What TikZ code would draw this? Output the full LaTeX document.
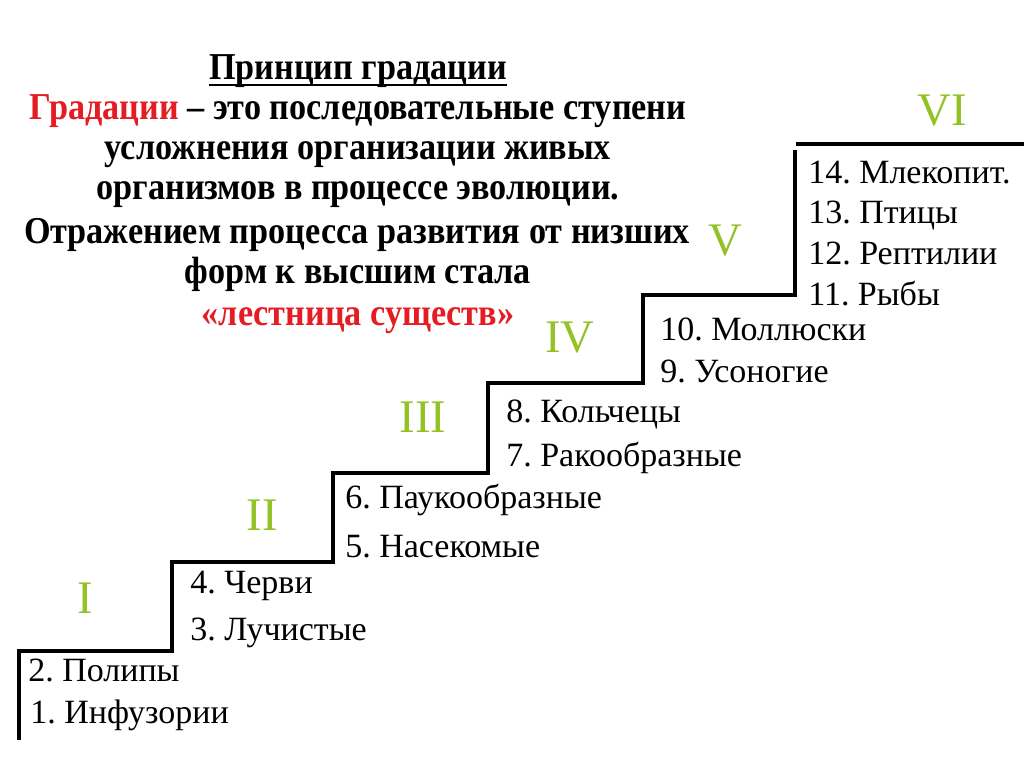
\documentclass[tikz,border=0pt]{standalone}
\usepackage{fontspec}
\setmainfont{Liberation Serif}
\newfontfamily\condfont[FakeStretch=0.9]{Liberation Serif}
\frenchspacing
\definecolor{numgreen}{RGB}{146,194,36}
\definecolor{myred}{RGB}{228,28,36}
\tikzset{
  stair/.style={line width=3pt, line join=miter},
  item/.style={anchor=mid west, inner sep=0pt, yshift=-6pt, font=\fontsize{25.5}{30}\selectfont},
  roman/.style={anchor=mid, inner sep=0pt, yshift=-9pt, text=numgreen, font=\fontsize{35}{40}\selectfont},
  title/.style={anchor=mid, inner sep=0pt, yshift=-6pt, font=\condfont\bfseries\fontsize{28.5}{32}\selectfont}
}
\begin{document}
\begin{tikzpicture}[x=0.75pt,y=-0.75pt]
\useasboundingbox (0,0) rectangle (1024,767);
% staircase
\coordinate (s0) at (19,740);
\coordinate (s1) at (19,651);
\coordinate (s2) at (172,651);
\coordinate (s3) at (172,562);
\coordinate (s4) at (333,562);
\coordinate (s5) at (333,473);
\coordinate (s6) at (488,473);
\coordinate (s7) at (488,383);
\coordinate (s8) at (643,383);
\coordinate (s9) at (643,295);
\coordinate (s10) at (795,295);
\coordinate (s11) at (795,150);
\coordinate (t0) at (796,144);
\coordinate (t1) at (1024,144);
\draw[stair] (s0) -- (s1) -- (s2) -- (s3) -- (s4) -- (s5) -- (s6) -- (s7) -- (s8) -- (s9) -- (s10) -- (s11);
\draw[stair] (t0) -- (t1);
% title block
\node[title] (h1) at (358,68) {Принцип градации};
\draw[line width=2pt] ([yshift=-4.5pt]h1.base west) -- ([yshift=-4.5pt]h1.base east);
\node[title] (h2) at (358,108) {\textcolor{myred}{Градации} – это последовательные ступени};
\node[title] (h3) at (358,148) {усложнения организации живых};
\node[title] (h4) at (358,188) {организмов в процессе эволюции.};
\node[title] (h5) at (357,232) {Отражением процесса развития от низших};
\node[title] (h6) at (358,272) {форм к высшим стала};
\node[title, text=myred] (h7) at (358,314) {«лестница существ»};
% items
\node[item] (i2) at (28,670) {2. Полипы};
\node[item] (i1) at (30,712) {1. Инфузории};
\node[item] (i4) at (190,582) {4. Черви};
\node[item] (i3) at (190,629) {3. Лучистые};
\node[item] (i6) at (345,497) {6. Паукообразные};
\node[item] (i5) at (345,546) {5. Насекомые};
\node[item] (i8) at (506,411) {8. Кольчецы};
\node[item] (i7) at (506,455) {7. Ракообразные};
\node[item] (i10) at (660,329) {10. Моллюски};
\node[item] (i9) at (660,371) {9. Усоногие};
\node[item] (i14) at (808,172) {14. Млекопит.};
\node[item] (i13) at (808,212) {13. Птицы};
\node[item] (i12) at (808,253) {12. Рептилии};
\node[item] (i11) at (808,294) {11. Рыбы};
% roman numerals
\node[roman] (r1) at (85,598) {I};
\node[roman] (r2) at (262,515) {II};
\node[roman] (r3) at (423,417) {III};
\node[roman] (r4) at (570,337) {IV};
\node[roman] (r5) at (725,240) {V};
\node[roman] (r6) at (942,110) {VI};
\end{tikzpicture}
\end{document}
